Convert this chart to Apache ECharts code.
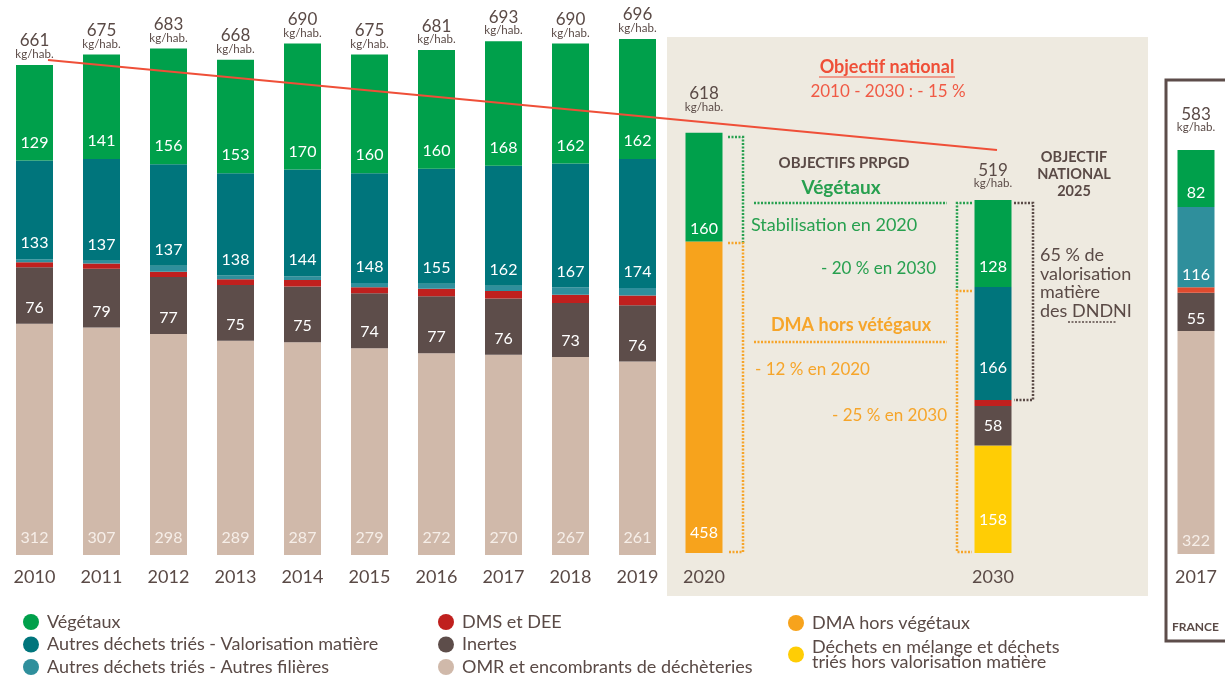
<!DOCTYPE html>
<html>
<head>
<meta charset="utf-8">
<script src="https://cdn.jsdelivr.net/npm/echarts@6/dist/echarts.min.js"></script>
<style>
  html, body { margin: 0; padding: 0; background: #fff; }
  #chart { width: 1225px; height: 677px; }
</style>
</head>
<body>
<div id="chart"></div>
<script>
// données 2010-2019 (kg/hab.)
const years = ['2010', '2011', '2012', '2013', '2014', '2015', '2016', '2017', '2018', '2019'];
const totals = [661, 675, 683, 668, 690, 675, 681, 693, 690, 696];
const vegetaux = [129, 141, 156, 153, 170, 160, 160, 168, 162, 162];
const valoMatiere = [133, 137, 137, 138, 144, 148, 155, 162, 167, 174];
const autresFilieres = [4, 4, 8, 5, 5, 6, 7, 7, 10, 10];
const dmsDee = [7, 7, 7, 8, 9, 8, 10, 10, 11, 13];
const inertes = [76, 79, 77, 75, 75, 74, 77, 76, 73, 76];
const omr = [312, 307, 298, 289, 287, 279, 272, 270, 267, 261];

// objectifs PRPGD
const year2020 = ['2020'];
const total2020 = [618];
const veg2020 = [160];
const dmaHorsVeg2020 = [458];

const year2030 = ['2030'];
const total2030 = [519];
const veg2030 = [128];
const valo2030 = [166];
const dms2030 = [9];
const inertes2030 = [58];
const melange2030 = [158];

// France 2017
const yearFr = ['2017'];
const totalFr = [583];
const vegFr = [82];
const autresFr = [116];
const dmsFr = [8];
const inertesFr = [55];
const omrFr = [322];

const C = {
  veg: '#00a04b',
  valo: '#00757c',
  autres: '#2f8f9c',
  dms: '#c0201e',
  inertes: '#5d4d4a',
  omr: '#d0b9aa',
  dma: '#f7a31c',
  melange: '#ffcd05'
};
const N = {
  veg: 'Végétaux',
  valo: 'Autres déchets triés - Valorisation matière',
  autres: 'Autres déchets triés - Autres filières',
  dms: 'DMS et DEE',
  inertes: 'Inertes',
  omr: 'OMR et encombrants de déchèteries',
  dma: 'DMA hors végétaux',
  melange: 'Déchets en mélange et déchets triés hors valorisation matière'
};
const ink = '#5a4a46';
const redObj = '#ef4f38';
const greenTxt = '#27a04f';
const orangeTxt = '#f6a52a';
const FONT = 'Lato';

// un segment empilé
function seg(grid, key, data, dist, color, labelColor) {
  return {
    name: N[key], type: 'bar', stack: 'g' + grid,
    xAxisIndex: grid, yAxisIndex: grid,
    data: data, barWidth: 37, barGap: '-100%',
    itemStyle: { color: color || C[key] },
    label: dist === null ? { show: false } : {
      show: true, position: 'insideBottom', distance: dist,
      color: labelColor || '#fff', fontSize: 16, fontFamily: FONT
    }
  };
}
// total transparent pour afficher "xxx kg/hab." au dessus
function total(grid, data, dist) {
  return {
    type: 'bar', xAxisIndex: grid, yAxisIndex: grid,
    data: data, barWidth: 37, barGap: '-100%', silent: true,
    itemStyle: { color: 'transparent' },
    label: {
      show: true, position: 'top', distance: dist,
      formatter: p => '{a|' + p.value + '}\n{b|kg/hab.}',
      rich: {
        a: { fontSize: 17, color: ink, fontFamily: FONT, lineHeight: 16, align: 'center' },
        b: { fontSize: 11.5, color: ink, fontFamily: FONT, lineHeight: 11, align: 'center' }
      }
    }
  };
}

const grids = [
  { left: 1, width: 670, top: 36, height: 519 },
  { left: 670, width: 68, top: 77, height: 476 },
  { left: 959, width: 68, top: 77, height: 476 },
  { left: 1167, width: 68, top: 69, height: 485 }
];
const cats = [years, year2020, year2030, yearFr];
const margins = [13, 15, 15, 14];

const xAxis = cats.map((c, i) => ({
  type: 'category', gridIndex: i, data: c,
  axisLine: { show: false }, axisTick: { show: false },
  axisLabel: { color: ink, fontSize: 18, fontFamily: FONT, margin: margins[i] }
}));
const yAxis = cats.map((c, i) => ({
  type: 'value', gridIndex: i, min: 0, max: 700, show: false
}));

const series = [
  seg(0, 'omr', omr, 9, null, '#f6eee8'),
  seg(0, 'inertes', inertes, 8),
  seg(0, 'dms', dmsDee, null),
  seg(0, 'autres', autresFilieres, null),
  seg(0, 'valo', valoMatiere, 8),
  seg(0, 'veg', vegetaux, 10),
  total(0, totals, 5),

  seg(1, 'dma', dmaHorsVeg2020, 12),
  seg(1, 'veg', veg2020, 5),
  total(1, total2020, 20),

  seg(2, 'melange', melange2030, 25),
  seg(2, 'inertes', inertes2030, 12),
  seg(2, 'dms', dms2030, null),
  seg(2, 'valo', valo2030, 24),
  seg(2, 'veg', veg2030, 12),
  total(2, total2030, 11),

  seg(3, 'omr', omrFr, 5, null, '#f6eee8'),
  seg(3, 'inertes', inertesFr, 4),
  seg(3, 'dms', dmsFr, null, '#e04a2e'),
  seg(3, 'autres', autresFr, 4),
  seg(3, 'veg', vegFr, 6),
  total(3, totalFr, 17)
];

function legend(left, top, data, lh, gap) {
  return {
    left: left, top: top, height: 90, padding: 0, orient: 'vertical',
    data: data, icon: 'circle', itemWidth: 16, itemHeight: 16, itemGap: gap,
    selectedMode: false,
    formatter: n => n === N.melange ? 'Déchets en mélange et déchets\ntriés hors valorisation matière' : n,
    textStyle: { color: ink, fontSize: 18, fontFamily: FONT, lineHeight: lh, padding: [0, 0, 0, 3] }
  };
}

const dotted = { lineWidth: 2.5, lineDash: [2, 1.5], fill: 'none' };
function pl(points, stroke) {
  return { type: 'polyline', z: 10, shape: { points: points }, style: Object.assign({ stroke: stroke }, dotted) };
}
function txt(x, y, text, font, fill, align, vAlign, lh) {
  return {
    type: 'text', z: 10, x: x, y: y,
    style: {
      text: text, font: font, fill: fill,
      align: align || 'center', textAlign: align || 'center',
      verticalAlign: vAlign || 'middle', textVerticalAlign: vAlign || 'middle',
      lineHeight: lh
    }
  };
}

const graphics = [
  { type: 'rect', z: 0, shape: { x: 667, y: 37, width: 481, height: 559 }, style: { fill: '#eeeae0' } },
  { type: 'rect', z: 10, shape: { x: 1166, y: 80, width: 80, height: 561 }, style: { fill: 'none', stroke: '#5d4d4a', lineWidth: 3 } },
  { type: 'line', z: 10, shape: { x1: 48, y1: 60, x2: 997, y2: 150 }, style: { stroke: redObj, lineWidth: 2 } },
  txt(887, 67, 'Objectif national', 'bold 18px Lato', redObj),
  { type: 'line', z: 10, shape: { x1: 819, y1: 77, x2: 955, y2: 77 }, style: { stroke: redObj, lineWidth: 1.2 } },
  txt(888, 92, '2010 - 2030 : - 15 %', '17px Lato', '#f05a45'),
  txt(844, 163, 'OBJECTIFS PRPGD', 'bold 15px Lato', ink),
  txt(841, 188, 'Végétaux', 'bold 19px Lato', greenTxt),
  pl([[754, 203], [947, 203]], greenTxt),
  txt(751, 225, 'Stabilisation en 2020', '18px Lato', greenTxt, 'left'),
  txt(936, 269, '- 20 % en 2030', '17px Lato', greenTxt, 'right'),
  txt(851, 325, 'DMA hors vétégaux', 'bold 18px Lato', orangeTxt),
  pl([[754, 342], [947, 342]], orangeTxt),
  txt(755, 370, '- 12 % en 2020', '17px Lato', orangeTxt, 'left'),
  txt(947, 416, '- 25 % en 2030', '17px Lato', orangeTxt, 'right'),
  // accolades 2020
  pl([[728, 137], [743, 137], [743, 243]], greenTxt),
  pl([[728, 243], [743, 243], [743, 552], [728, 552]], orangeTxt),
  // accolades 2030
  pl([[972, 203], [957, 203], [957, 291]], greenTxt),
  pl([[972, 291], [957, 291], [957, 552], [972, 552]], orangeTxt),
  pl([[1014, 203], [1033, 203], [1033, 400], [1014, 400]], ink),
  txt(1074, 149, 'OBJECTIF\nNATIONAL\n2025', 'bold 14.5px Lato', ink, 'center', 'top', 17),
  txt(1040, 246, '65 % de\nvalorisation\nmatière\ndes DNDNI', '18px Lato', ink, 'left', 'top', 18.5),
  { type: 'line', z: 10, shape: { x1: 1068, y1: 322, x2: 1117, y2: 322 }, style: { stroke: ink, lineWidth: 1.5, lineDash: [2, 1.5] } },
  txt(1172, 627, 'FRANCE', 'bold 12px Lato', ink, 'left')
];

const myChart = echarts.init(document.getElementById('chart'));
myChart.setOption({
  animation: false,
  textStyle: { fontFamily: FONT },
  grid: grids,
  xAxis: xAxis,
  yAxis: yAxis,
  legend: [
    legend(23, 613, [N.veg, N.valo, N.autres], 18, 4.5),
    legend(438, 613, [N.dms, N.inertes, N.omr], 18, 4.5),
    legend(788, 614, [N.dma, N.melange], 15, 6)
  ],
  graphic: { elements: graphics },
  series: series
});
</script>
</body>
</html>
